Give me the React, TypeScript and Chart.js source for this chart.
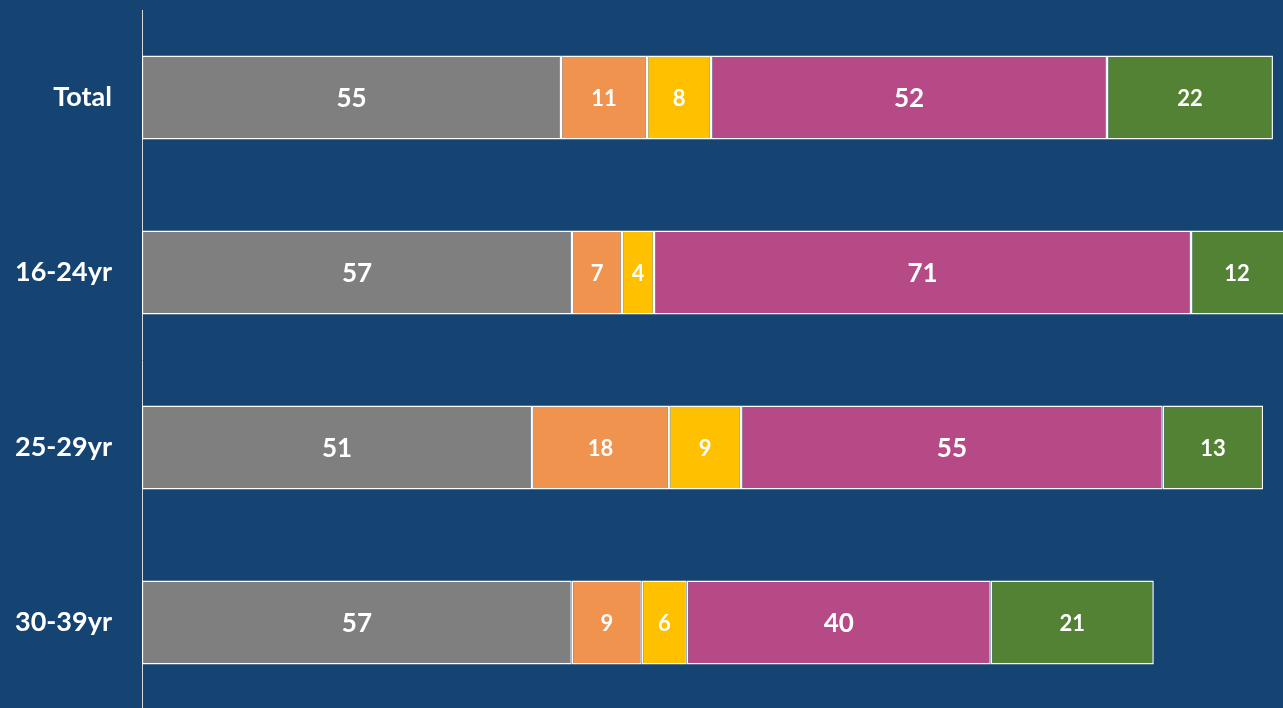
import React, { useEffect, useRef } from "react";
import { Chart, registerables } from "chart.js";

Chart.register(...registerables);

const categories = ["Total", "16-24yr", "25-29yr", "30-39yr"];
const greyValues = [55.13, 56.58, 51.32, 56.55];
const orangeValues = [11.32, 6.58, 18.03, 9.21];
const yellowValues = [8.42, 4.21, 9.47, 5.92];
const magentaValues = [52.1, 70.66, 55.49, 40.0];
const greenValues = [21.84, 12.3, 13.2, 21.45];

const BG = "#154372";

const labelPlugin = {
  id: "barLabels",
  afterDatasetsDraw(chart: any) {
    const { ctx, chartArea } = chart;
    ctx.save();
    chart.data.datasets.forEach((ds: any, di: number) => {
      const meta = chart.getDatasetMeta(di);
      meta.data.forEach((el: any, i: number) => {
        const v = ds.data[i];
        const left = Math.max(Math.min(el.x, el.base), chartArea.left);
        const right = Math.min(Math.max(el.x, el.base), chartArea.right);
        const cx = (left + right) / 2;
        ctx.fillStyle = "#ffffff";
        ctx.font = `bold ${ds.labelSize}px Lato`;
        ctx.textAlign = "center";
        ctx.textBaseline = "middle";
        ctx.fillText(String(Math.round(v)), cx, el.y + 1);
      });
    });
    ctx.restore();
  },
};

export default function App() {
  const ref = useRef<HTMLCanvasElement>(null);
  useEffect(() => {
    if (!ref.current) return;
    const mk = (data: number[], color: string, labelSize: number) => ({
      data,
      backgroundColor: color,
      borderColor: "#ffffff",
      borderWidth: 1.5,
      borderSkipped: false,
      barPercentage: 0.48,
      categoryPercentage: 1,
      labelSize,
    });
    const chart = new Chart(ref.current, {
      type: "bar",
      data: {
        labels: categories,
        datasets: [
          mk(greyValues, "#7f7f7f", 26),
          mk(orangeValues, "#f0934f", 22),
          mk(yellowValues, "#ffc000", 22),
          mk(magentaValues, "#b64a87", 26),
          mk(greenValues, "#548235", 22),
        ] as any,
      },
      options: {
        indexAxis: "y",
        responsive: false,
        animation: false,
        layout: { padding: { top: 10, left: 0, right: 0, bottom: 0 } },
        plugins: { legend: { display: false }, tooltip: { enabled: false } },
        scales: {
          x: {
            stacked: true,
            display: false,
            min: 0,
            max: 1141 / 7.6,
          },
          y: {
            stacked: true,
            grid: { display: false, drawTicks: false },
            border: { display: true, color: "#d9d9d9", width: 1 },
            ticks: {
              color: "#ffffff",
              padding: 30,
              font: { family: "Lato", weight: "bold", size: 27 },
            },
            afterFit(scale: any) {
              scale.width = 142;
              scale.paddingTop = 0;
              scale.paddingBottom = 0;
            },
          },
        },
      } as any,
      plugins: [labelPlugin],
    });
    return () => chart.destroy();
  }, []);
  return (
    <div
      style={{
        position: "fixed",
        left: 0,
        top: 0,
        width: 1283,
        height: 708,
        overflow: "hidden",
        background: BG,
      }}
    >
      <canvas ref={ref} width={1283} height={710} style={{ display: "block", width: 1283, height: 710 }} />
    </div>
  );
}
